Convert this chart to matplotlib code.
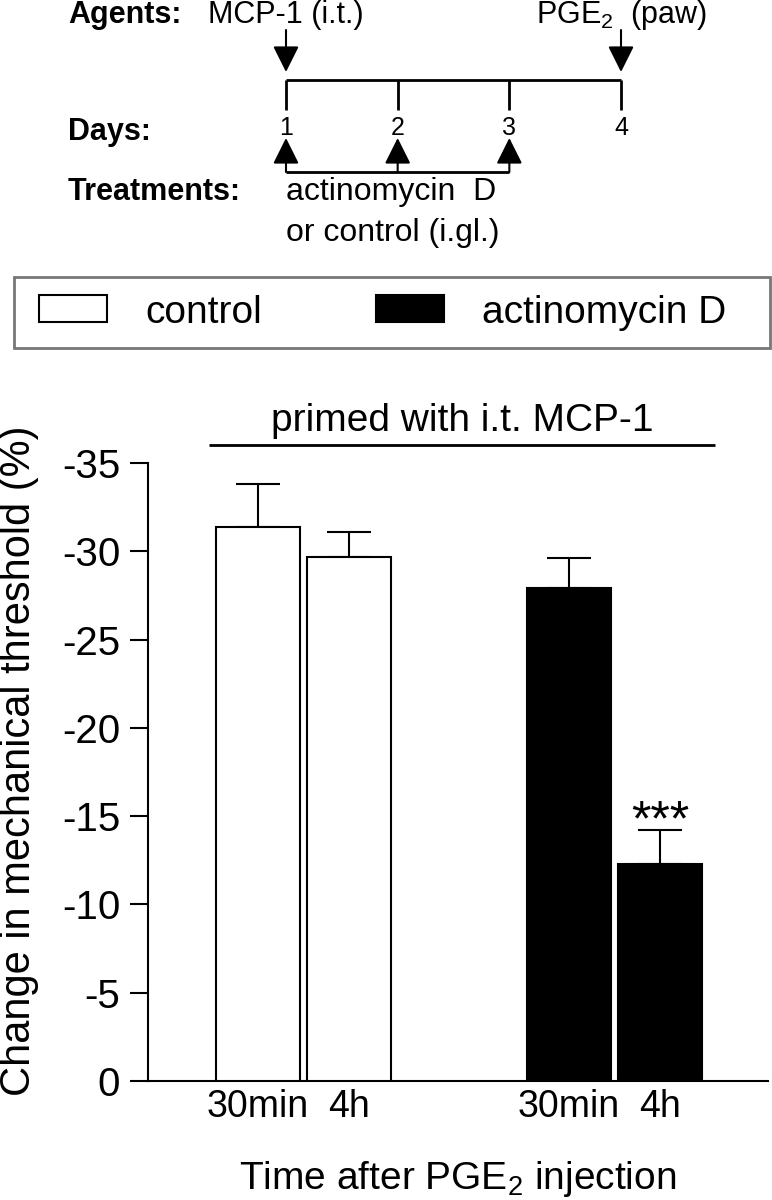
import numpy as np
import matplotlib.pyplot as plt
from matplotlib.patches import Rectangle
from matplotlib.transforms import blended_transform_factory

plt.rcParams['font.family'] = ['Liberation Sans', 'DejaVu Sans']
plt.rcParams['mathtext.default'] = 'regular'
plt.rcParams['axes.unicode_minus'] = False

# bar data
groups = ['control', 'actinomycin D']
time_labels = ['30min', '4h', '30min', '4h']
bar_group = [0, 0, 1, 1]
change = [-31.4, -29.7, -27.9, -12.3]
sem = [2.4, 1.4, 1.7, 1.9]
signif = ['', '', '', '***']
yticks = [0, -5, -10, -15, -20, -25, -30, -35]

# protocol diagram
days = [1, 2, 3, 4]
agent_days = [1, 4]
agent_labels = ['MCP-1 (i.t.)', 'PGE$_2$  (paw)']
treatment_days = [1, 2, 3]
treatment_lines = ['actinomycin  D', 'or control (i.gl.)']

W, H = 772, 1200
fig = plt.figure(figsize=(W / 100, H / 100), dpi=100)

# ---- main bar chart
ax = fig.add_axes([148 / W, 1 - 1081 / H, 620 / W, 618 / H])

pos = np.array(bar_group) * 3.4 + np.array([0, 1, 0, 1])
width = 0.92
colors = ['white' if g == 0 else 'black' for g in bar_group]

bars = ax.bar(pos, change, width=width, color=colors, edgecolor='black',
              linewidth=1.5, zorder=3)
ax.errorbar(pos, change, yerr=[sem, np.zeros(len(sem))], fmt='none',
            ecolor='black', elinewidth=1.5, capsize=15.5, capthick=1.5,
            zorder=2)

for x, v, e, s in zip(pos, change, sem, signif):
    if s:
        ax.annotate(s, xy=(x, v - e), xytext=(0, -4), textcoords='offset points',
                    ha='center', va='baseline', fontsize=36)

ax.set_ylim(0, -35)
ax.set_xlim(-1.2, 5.58)
ax.set_yticks(yticks)
ax.set_yticklabels([str(t) for t in yticks])
ax.set_xticks(pos)
ax.set_xticklabels(time_labels)

for side in ['top', 'right']:
    ax.spines[side].set_visible(False)
for side in ['left', 'bottom']:
    ax.spines[side].set_linewidth(1.5)

ax.tick_params(axis='y', direction='out', length=13, width=1.5, pad=7, labelsize=29)
ax.tick_params(axis='x', length=0, pad=6, labelsize=27)

ax.set_ylabel('Change in mechanical threshold (%)', fontsize=30)
ax.yaxis.set_label_coords(-0.176, 0.518)
ax.set_xlabel('Time after PGE$_2$ injection', fontsize=28)
ax.xaxis.label.set_va('baseline')
ax.xaxis.set_label_coords(0.5, -0.1748)

# bracket over all bars
bx0 = pos[0] - width / 2 - 0.07
bx1 = pos[-1] + width / 2 + 0.14
ax.plot([bx0, bx1], [-36.0, -36.0], color='black', lw=2, clip_on=False,
        solid_capstyle='butt')
ax.annotate('primed with i.t. MCP-1', xy=((bx0 + bx1) / 2, -36.0),
            xytext=(0, 10), textcoords='offset points', ha='center',
            va='baseline', fontsize=28, annotation_clip=False)

# ---- legend
leg = fig.legend(handles=[bars[0], bars[2]], labels=groups, ncol=2,
                 loc='center left', bbox_to_anchor=(39 / W, 1 - 312.5 / H),
                 frameon=False, borderpad=0, borderaxespad=0, fontsize=28,
                 handlelength=1.75, handleheight=0.69, handletextpad=0.98,
                 columnspacing=2.93)
fig.add_artist(Rectangle((14 / W, 1 - 348 / H), 756 / W, 71 / H,
                         transform=fig.transFigure, fill=False,
                         edgecolor='#777777', lw=2))

# ---- protocol diagram (x in days, y in pixel rows)
dax = fig.add_axes([0, 1 - 260 / H, 1, 260 / H])
dax.set_xlim(1 - 286 / 111.67, 1 + (W - 286) / 111.67)
dax.set_ylim(260, 0)
dax.axis('off')
lab_tr = blended_transform_factory(dax.transAxes, dax.transData)

arrow_style = dict(arrowstyle='-|>,head_length=0.8,head_width=0.4',
                   mutation_scale=20, lw=1.5, color='black',
                   shrinkA=0, shrinkB=0)

dax.hlines(80, days[0], days[-1], color='black', lw=2)
dax.vlines(days, 80, 110, color='black', lw=2)
for d in days:
    dax.text(d, 135, str(d), ha='center', va='baseline', fontsize=18)

for d, lab in zip(agent_days, agent_labels):
    dax.annotate('', xy=(d, 72), xytext=(d, 30), arrowprops=arrow_style)
    dax.text(d, 23, lab, ha='center', va='baseline', fontsize=22)

for d in treatment_days:
    dax.annotate('', xy=(d, 138), xytext=(d, 172), arrowprops=arrow_style)
dax.hlines(172, treatment_days[0], treatment_days[-1], color='black', lw=2)
dax.text(treatment_days[0], 200, treatment_lines[0], ha='left',
         va='baseline', fontsize=23)
dax.text(treatment_days[0], 241, treatment_lines[1], ha='left',
         va='baseline', fontsize=23)

for lab, yb in [('Agents:', 23), ('Days:', 140), ('Treatments:', 200)]:
    dax.text(68 / W, yb, lab, transform=lab_tr, ha='left', va='baseline',
             fontsize=22, fontweight='bold')

fig.savefig('out.png', dpi=100)
